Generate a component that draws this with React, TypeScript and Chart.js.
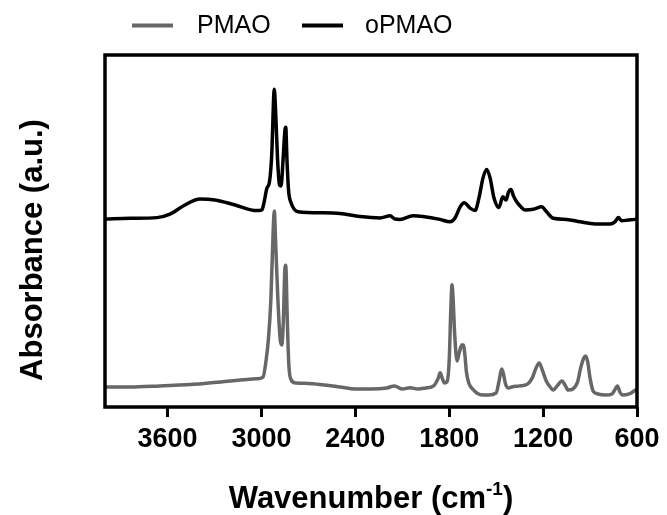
import React, { useEffect, useRef } from "react";
import { Chart, registerables } from "chart.js";

Chart.register(...registerables);

// Wavenumber (cm^-1) and absorbance (a.u., offset)
const PMAO_WN = [
  4000, 3840, 3650, 3400, 3200, 3030, 2990, 2970, 2955, 2940, 2925, 2918, 2910, 2895, 2880, 2870,
  2860, 2850, 2845, 2835, 2825, 2810, 2780, 2700, 2600, 2500, 2400, 2300, 2200, 2150, 2100, 2050,
  2000, 1950, 1900, 1870, 1858, 1845, 1830, 1815, 1800, 1790, 1782, 1775, 1765, 1750, 1735, 1720,
  1710, 1700, 1690, 1675, 1650, 1600, 1550, 1500, 1480, 1465, 1455, 1440, 1420, 1400, 1350, 1300,
  1270, 1245, 1225, 1205, 1180, 1150, 1135, 1110, 1080, 1060, 1040, 1010, 980, 960, 940, 928, 915,
  900, 880, 850, 800, 760, 735, 725, 710, 690, 650, 620, 600,
];
const PMAO_ABS = [
  5.7, 5.7, 6.0, 6.5, 7.4, 8.0, 8.5, 13.4, 19.6, 30.4, 50.3, 55.7, 47.4, 30.4, 19.0, 17.6,
  24.7, 39.5, 40.3, 24.7, 11.9, 7.7, 6.8, 6.7, 6.25, 5.7, 5.1, 5.1, 5.4, 6.0, 5.1, 5.5,
  5.1, 5.4, 6.0, 8.2, 9.7, 8.2, 6.8, 7.1, 13.4, 27.6, 34.7, 30.4, 20.5, 13.1, 15.6, 17.6,
  17.6, 14.8, 9.9, 6.8, 5.1, 3.5, 3.4, 4.0, 7.7, 10.8, 9.7, 6.5, 5.4, 5.7, 6.0, 6.5,
  8.2, 11.1, 12.5, 10.5, 7.4, 5.4, 4.8, 6.0, 7.4, 6.25, 4.8, 5.1, 7.1, 11.1, 13.9, 14.5, 12.8,
  8.2, 4.5, 3.7, 3.4, 3.7, 5.4, 6.0, 4.3, 3.4, 3.7, 4.5, 5.1,
];

const OPMAO_WN = [
  4000, 3840, 3668, 3585, 3489, 3393, 3297, 3169, 3030, 2997, 2984, 2965, 2949, 2933, 2923, 2918,
  2910, 2897, 2885, 2875, 2862, 2850, 2845, 2837, 2827, 2811, 2767, 2607, 2498, 2370, 2242, 2178,
  2147, 2115, 2032, 1968, 1859, 1795, 1763, 1731, 1704, 1667, 1635, 1610, 1584, 1561, 1539, 1514,
  1482, 1458, 1437, 1421, 1405, 1389, 1369, 1341, 1316, 1263, 1209, 1182, 1135, 1049, 964, 868,
  773, 741, 719, 698, 657, 613, 600,
];
const OPMAO_ABS = [
  53.4, 53.6, 53.8, 54.8, 57.4, 59.1, 58.8, 57.4, 55.8, 56.0, 58.0, 62.2, 63.9, 73.0, 87.2, 90.3,
  84.4, 70.2, 63.1, 62.8, 70.2, 78.7, 79.5, 70.2, 61.6, 58.0, 55.5, 55.2, 55.0, 54.1, 53.7, 54.3,
  53.4, 53.3, 54.3, 54.1, 53.3, 52.6, 53.7, 56.8, 58.0, 56.5, 55.8, 59.4, 65.1, 67.5, 65.1, 59.4,
  56.7, 59.7, 58.8, 61.1, 61.8, 59.9, 58.3, 56.8, 56.0, 56.2, 56.9, 55.7, 53.6, 53.3, 52.6, 52.0,
  52.0, 52.6, 53.8, 52.9, 53.1, 53.3, 53.4,
];

const X_TICKS = [3600, 3000, 2400, 1800, 1200, 600];
const SERIES_LABELS = ["PMAO", "oPMAO"];
const SERIES_COLORS = ["#676767", "#000000"];
const X_TITLE = "Wavenumber (cm";
const X_TITLE_SUP = "-1";
const X_TITLE_END = ")";
const Y_TITLE = "Absorbance (a.u.)";

const FONT = "'Liberation Sans', Arial, Helvetica, sans-serif";

export default function App() {
  const ref = useRef<HTMLCanvasElement>(null);

  useEffect(() => {
    document.body.style.margin = "0";
    const canvas = ref.current!;
    const toPts = (wn: number[], ab: number[]) => wn.map((x, i) => ({ x, y: ab[i] }));

    const framePlugin = {
      id: "frame",
      afterDatasetsDraw(chart: any) {
        const { ctx, chartArea: a } = chart;
        ctx.save();
        ctx.strokeStyle = "#000";
        ctx.lineWidth = 3.5;
        ctx.strokeRect(a.left, a.top, a.right - a.left, a.bottom - a.top);
        ctx.restore();
      },
    };

    const titlesPlugin = {
      id: "titles",
      afterDraw(chart: any) {
        const { ctx, chartArea: a } = chart;
        ctx.save();
        ctx.fillStyle = "#000";
        ctx.font = `bold 31px ${FONT}`;
        ctx.textAlign = "center";
        ctx.textBaseline = "middle";
        ctx.translate(33, 250);
        ctx.rotate(-Math.PI / 2);
        ctx.fillText(Y_TITLE, 0, 0);
        ctx.restore();

        ctx.save();
        ctx.fillStyle = "#000";
        ctx.textBaseline = "alphabetic";
        ctx.textAlign = "left";
        const mainFont = `bold 31px ${FONT}`;
        const supFont = `bold 19px ${FONT}`;
        ctx.font = mainFont;
        const w1 = ctx.measureText(X_TITLE).width;
        const w3 = ctx.measureText(X_TITLE_END).width;
        ctx.font = supFont;
        const w2 = ctx.measureText(X_TITLE_SUP).width;
        const total = w1 + w2 + w3;
        const cx = (a.left + a.right) / 2;
        let x = cx - total / 2;
        const base = 508;
        ctx.font = mainFont;
        ctx.fillText(X_TITLE, x, base);
        x += w1;
        ctx.font = supFont;
        ctx.fillText(X_TITLE_SUP, x, base - 13);
        x += w2;
        ctx.font = mainFont;
        ctx.fillText(X_TITLE_END, x, base);
        ctx.restore();
      },
    };

    const legendPlugin = {
      id: "customLegend",
      afterDraw(chart: any) {
        const { ctx } = chart;
        const items = chart.data.datasets;
        const lineX = [132, 302];
        const textX = [197, 365];
        const y = 25.5;
        ctx.save();
        ctx.font = `25px ${FONT}`;
        ctx.textBaseline = "middle";
        ctx.textAlign = "left";
        items.forEach((ds: any, i: number) => {
          ctx.strokeStyle = ds.borderColor;
          ctx.lineWidth = 4;
          ctx.beginPath();
          ctx.moveTo(lineX[i], y);
          ctx.lineTo(lineX[i] + 41, y);
          ctx.stroke();
          ctx.fillStyle = "#000";
          ctx.fillText(ds.label, textX[i], y + 1);
        });
        ctx.restore();
      },
    };

    const chart = new Chart(canvas, {
      type: "line",
      data: {
        datasets: [
          {
            label: SERIES_LABELS[0],
            data: toPts(PMAO_WN, PMAO_ABS),
            borderColor: SERIES_COLORS[0],
            borderWidth: 3.5,
            pointRadius: 0,
            cubicInterpolationMode: "monotone",
            fill: false,
          },
          {
            label: SERIES_LABELS[1],
            data: toPts(OPMAO_WN, OPMAO_ABS),
            borderColor: SERIES_COLORS[1],
            borderWidth: 3.5,
            pointRadius: 0,
            cubicInterpolationMode: "monotone",
            fill: false,
          },
        ],
      },
      options: {
        animation: false,
        responsive: false,
        devicePixelRatio: 1,
        layout: { padding: { left: 105, top: 55, right: 30, bottom: 0 } },
        plugins: { legend: { display: false }, tooltip: { enabled: false } },
        scales: {
          x: {
            type: "linear",
            min: 600,
            max: 4000,
            reverse: true,
            afterBuildTicks: (s: any) => {
              s.ticks = X_TICKS.map((v) => ({ value: v }));
            },
            afterFit: (s: any) => {
              s.height = 108;
            },
            grid: {
              display: true,
              drawOnChartArea: false,
              drawTicks: true,
              tickLength: 10,
              tickWidth: 3,
              tickColor: "#000",
            },
            border: { display: false },
            ticks: {
              color: "#000",
              font: { family: FONT, size: 27, weight: "bold" },
              padding: 6,
              maxRotation: 0,
              autoSkip: false,
              callback: (v: any) => String(v),
            },
          },
          y: { display: false, min: 0, max: 100 },
        },
      },
      plugins: [framePlugin, titlesPlugin, legendPlugin],
    } as any);

    return () => chart.destroy();
  }, []);

  return (
    <div style={{ width: 667, height: 515 }}>
      <canvas ref={ref} width={667} height={515} />
    </div>
  );
}
